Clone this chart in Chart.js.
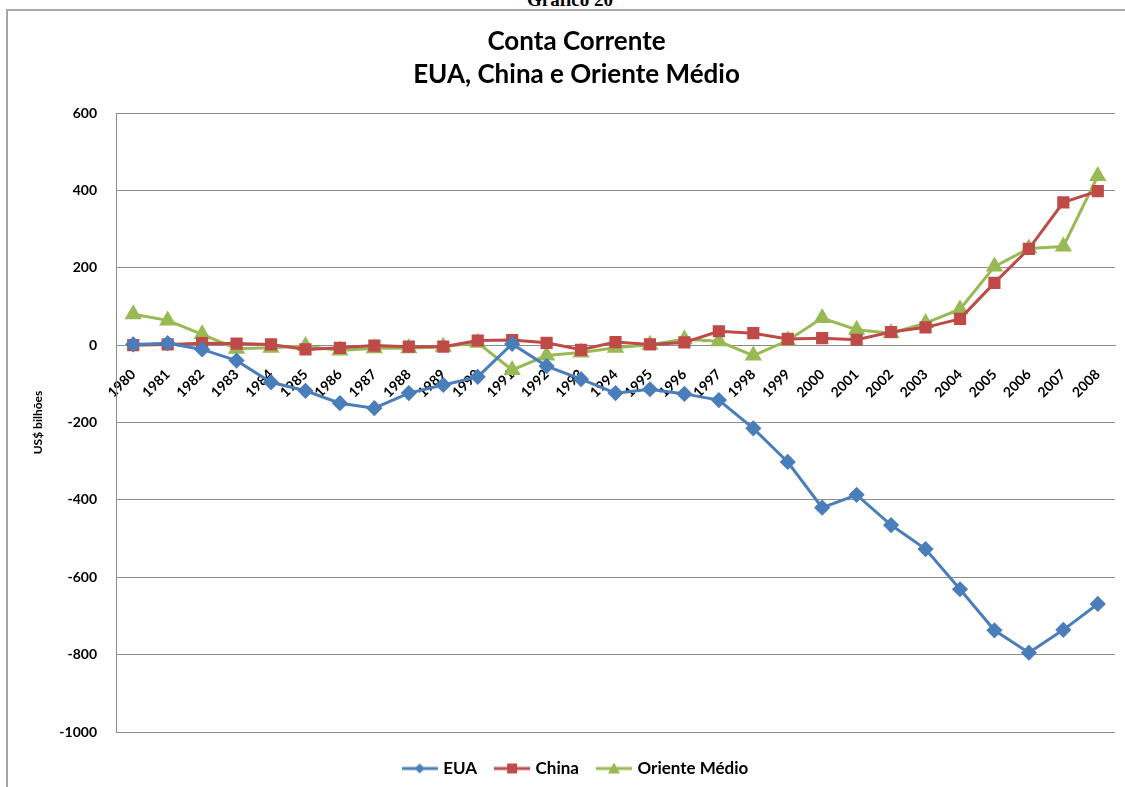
<!DOCTYPE html>
<html>
<head>
<meta charset="utf-8">
<script src="https://cdn.jsdelivr.net/npm/chart.js@4/dist/chart.umd.min.js"></script>
<style>
  html, body { margin: 0; padding: 0; background: #fff; overflow: hidden; }
  #wrap { position: relative; width: 1125px; height: 787px; }
  #frame { position: absolute; left: 6px; top: 9px; width: 1130px; height: 800px;
           border-left: 2px solid #a6a6a6; border-top: 2px solid #a6a6a6; }
  #caption { position: absolute; left: 0; width: 1140px; top: -11px; text-align: center;
             font: bold 19px "Liberation Serif", serif; color: #000; }
  canvas { position: absolute; left: 0; top: 0; }
</style>
</head>
<body>
<div id="wrap">
  <div id="caption">Gráfico 20</div>
  <div id="frame"></div>
  <canvas id="myChart" width="1125" height="787"></canvas>
</div>
<script>
var years = ['1980','1981','1982','1983','1984','1985','1986','1987','1988','1989',
             '1990','1991','1992','1993','1994','1995','1996','1997','1998','1999',
             '2000','2001','2002','2003','2004','2005','2006','2007','2008']

var eua = [2, 5, -11, -40, -96, -118, -150, -163, -124, -103,
           -82, 3, -54, -88, -124, -114, -126, -142, -215, -302,
           -420, -387, -465, -527, -631, -737, -795, -736, -669]

var china = [0, 2, 5, 4, 2, -11, -7, -1, -4, -4,
             12, 13, 6, -12, 8, 2, 7, 36, 31, 16,
             18, 14, 34, 46, 68, 161, 249, 369, 398]

var orienteMedio = [80, 64, 28, -9, -7, -2, -14, -8, -8, -4,
                    6, -64, -27, -19, -7, 1, 15, 10, -27, 12,
                    70, 40, 31, 57, 93, 203, 250, 255, 437]

var yTicks = [600, 400, 200, 0, -200, -400, -600, -800, -1000]

var azul = '#4a7ebb'
var vermelho = '#be4b48'
var verde = '#98b954'
var fonte = 'Lato, "Open Sans", sans-serif'

// small canvas with line + marker for the legend (Excel style)
function legendIcon(color, style){
    var c = document.createElement('canvas')
    c.width = 36
    c.height = 14
    var ctx = c.getContext('2d')
    ctx.strokeStyle = color
    ctx.fillStyle = color
    ctx.lineWidth = 3
    ctx.beginPath()
    ctx.moveTo(0, 7)
    ctx.lineTo(36, 7)
    ctx.stroke()
    ctx.beginPath()
    if (style == 'rectRot') {
        ctx.moveTo(18, 2); ctx.lineTo(23, 7); ctx.lineTo(18, 12); ctx.lineTo(13, 7)
    } else if (style == 'rect') {
        ctx.rect(13, 2, 10, 10)
    } else {
        ctx.moveTo(18, 1); ctx.lineTo(24, 12); ctx.lineTo(12, 12)
    }
    ctx.closePath()
    ctx.fill()
    return c
}

var icons = [legendIcon(azul, 'rectRot'), legendIcon(vermelho, 'rect'), legendIcon(verde, 'triangle')]

var ctx = document.getElementById('myChart').getContext('2d')
var chart = new Chart(ctx, {
    type: 'line',
    data: {
        labels: years,
        datasets: [{
            label: 'EUA',
            data: eua,
            borderColor: azul,
            backgroundColor: azul,
            borderWidth: 3,
            pointStyle: 'rectRot',
            pointRadius: 6,
            tension: 0
        }, {
            label: 'China',
            data: china,
            borderColor: vermelho,
            backgroundColor: vermelho,
            borderWidth: 3,
            pointStyle: 'rect',
            pointRadius: 6.5,
            tension: 0
        }, {
            label: 'Oriente Médio',
            data: orienteMedio,
            borderColor: verde,
            backgroundColor: verde,
            borderWidth: 3,
            pointStyle: 'triangle',
            pointRadius: 7,
            tension: 0
        }]
    },
    options: {
        responsive: false,
        animation: false,
        layout: { padding: { left: 28, right: 0, top: 12, bottom: 0 } },
        plugins: {
            title: {
                display: true,
                text: ['Conta Corrente', 'EUA, China e Oriente Médio'],
                color: '#000',
                font: { family: fonte, size: 26, weight: 'bold', lineHeight: 1.27 },
                padding: { top: 13, bottom: 22 }
            },
            legend: {
                position: 'bottom',
                title: { display: true, text: '', padding: 0, font: { size: 8, lineHeight: 1 } },
                labels: {
                    usePointStyle: true,
                    pointStyleWidth: 30,
                    padding: 20,
                    color: '#000',
                    font: { family: fonte, size: 17, weight: 'bold' },
                    generateLabels: function(chart){
                        return chart.data.datasets.map(function(ds, i){
                            return {
                                text: ds.label,
                                pointStyle: icons[i],
                                fillStyle: ds.borderColor,
                                strokeStyle: ds.borderColor,
                                lineWidth: 0,
                                fontColor: '#000',
                                datasetIndex: i
                            }
                        })
                    }
                }
            },
            tooltip: { enabled: false }
        },
        scales: {
            x: {
                position: { y: 0 },
                offset: true,
                // rotated labels sit inside the plot, so no extra side padding
                afterFit: function(scale){ scale.paddingLeft = 0; scale.paddingRight = 0 },
                grid: { display: false, drawTicks: false },
                border: { display: true, color: '#8c8c8c', width: 1 },
                ticks: {
                    color: '#000',
                    font: { family: fonte, size: 14, weight: 'bold' },
                    minRotation: 45,
                    maxRotation: 45,
                    autoSkip: false,
                    padding: 21
                }
            },
            y: {
                min: -1000,
                max: 600,
                afterFit: function(scale){ scale.width = 88 },
                afterBuildTicks: function(scale){
                    scale.ticks = yTicks.map(function(v){ return { value: v } })
                },
                grid: { color: '#8c8c8c', lineWidth: 1, drawTicks: false },
                border: { display: true, color: '#8c8c8c', width: 1 },
                ticks: {
                    color: '#000',
                    font: { family: fonte, size: 14, weight: 'bold' },
                    padding: 19,
                    callback: function(v){ return String(v) }
                },
                title: {
                    display: true,
                    text: 'US$ bilhões',
                    color: '#000',
                    font: { family: fonte, size: 12, weight: 'bold' },
                    padding: { top: 3, bottom: 0 }
                }
            }
        }
    }
})
</script>
</body>
</html>
